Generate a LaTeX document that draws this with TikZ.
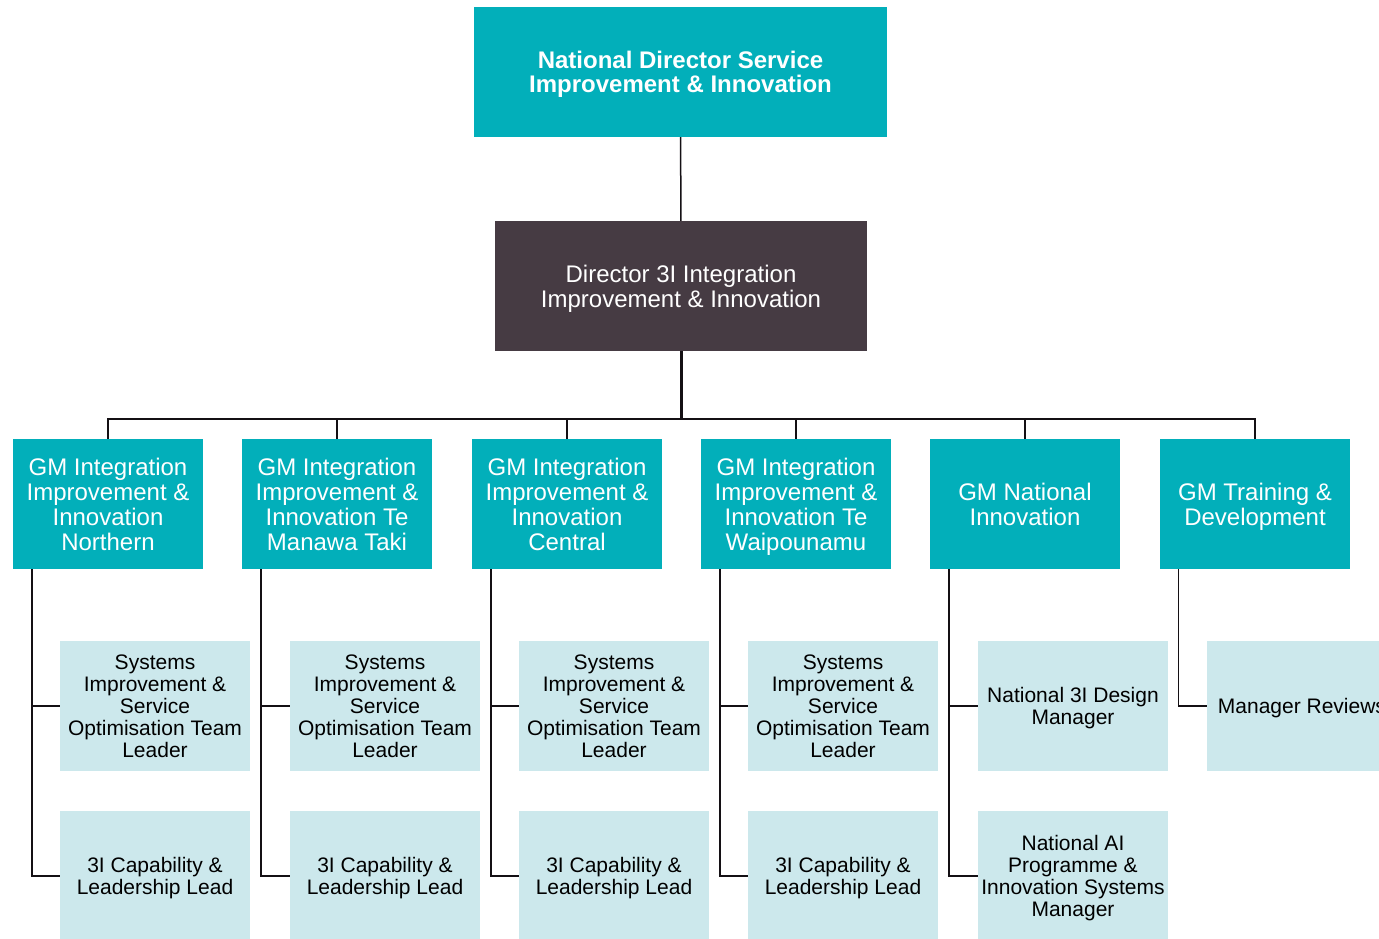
\documentclass[tikz,border=0pt]{standalone}
\usepackage{fontspec}
\setmainfont{Liberation Sans}
\usepackage{xcolor}
\usepackage{tikz}
\usetikzlibrary{positioning}

\definecolor{teal3i}{HTML}{02AFBA}
\definecolor{plum3i}{HTML}{463B43}
\definecolor{pale3i}{HTML}{CCE8EC}
\definecolor{ink3i}{HTML}{141014}

\begin{document}
\begin{tikzpicture}[x=1pt, y=-1pt,
    box/.style={minimum width=190pt, minimum height=130pt, align=center,
        inner sep=0pt, text depth=0pt},
    head/.style={box, fill=teal3i, text=white, font=\fontsize{24}{24}\selectfont\bfseries,
        minimum width=413pt},
    director/.style={box, fill=plum3i, text=white, font=\fontsize{24}{25}\selectfont,
        minimum width=372pt},
    gm/.style={box, fill=teal3i, text=white, font=\fontsize{24}{25}\selectfont},
    role/.style={box, fill=pale3i, text=black, font=\fontsize{21}{22}\selectfont},
    link/.style={draw=ink3i, line width=2pt}]

    \useasboundingbox (0,0) rectangle (1379,939);
    \clip (0,0) rectangle (1379,939);

    % top of the tree
    \node[head] (nd) at (680.5,72) {National Director Service\\Improvement \& Innovation};
    \node[director] (dir) at (681,286) {Director 3I Integration\\Improvement \& Innovation};

    % general managers
    \node[gm] (gm1) at (108,504) {GM Integration\\Improvement \&\\Innovation\\Northern};
    \node[gm] (gm2) at (337,504) {GM Integration\\Improvement \&\\Innovation Te\\Manawa Taki};
    \node[gm] (gm3) at (567,504) {GM Integration\\Improvement \&\\Innovation\\Central};
    \node[gm] (gm4) at (796,504) {GM Integration\\Improvement \&\\Innovation Te\\Waipounamu};
    \node[gm] (gm5) at (1025,504) {GM National\\Innovation};
    \node[gm] (gm6) at (1255,504) {GM Training \&\\Development};

    % first row of roles
    \node[role] (sys1) at (155,706) {Systems\\Improvement \&\\Service\\Optimisation Team\\Leader};
    \node[role] (sys2) at (385,706) {Systems\\Improvement \&\\Service\\Optimisation Team\\Leader};
    \node[role] (sys3) at (614,706) {Systems\\Improvement \&\\Service\\Optimisation Team\\Leader};
    \node[role] (sys4) at (843,706) {Systems\\Improvement \&\\Service\\Optimisation Team\\Leader};
    \node[role] (design) at (1073,706) {National 3I Design\\Manager};
    \node[role] (review) at (1302,706) {Manager Reviews};

    % second row of roles
    \node[role] (cap1) at (155,876) {3I Capability \&\\Leadership Lead};
    \node[role] (cap2) at (385,876) {3I Capability \&\\Leadership Lead};
    \node[role] (cap3) at (614,876) {3I Capability \&\\Leadership Lead};
    \node[role] (cap4) at (843,876) {3I Capability \&\\Leadership Lead};
    \node[role] (ai) at (1073,876) {National AI\\Programme \&\\Innovation Systems\\Manager};

    \coordinate (bus) at (681,419);

    \draw[link, line width=1.5pt] (nd) -- (dir);
    \draw[link, line width=3pt] (dir) -- (bus);
    \foreach \g in {gm1,gm2,gm3,gm4,gm5,gm6}
        \draw[link] (bus) -| (\g.north);

    % reporting lines down the left side of each manager
    \foreach \g/\a/\b in {gm1/sys1/cap1, gm2/sys2/cap2, gm3/sys3/cap3, gm4/sys4/cap4, gm5/design/ai} {
        \draw[link] ([xshift=19pt]\g.south west) |- (\b.west);
        \draw[link, line width=1.2pt] ([xshift=19pt]\g.south west) |- (\a.west);
    }
    \draw[link, line width=1.2pt] ([xshift=19pt]gm6.south west) |- (review.west);

\end{tikzpicture}
\end{document}
